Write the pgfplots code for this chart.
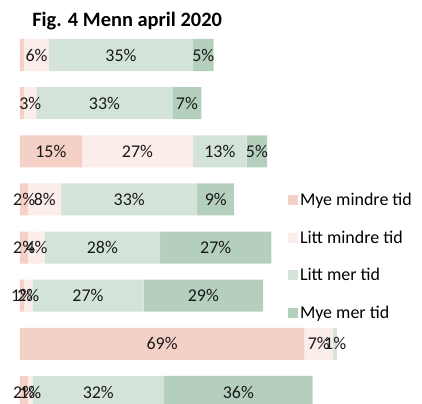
\documentclass[border=0pt]{standalone}
\usepackage{pgfplots}
\pgfplotsset{compat=1.18}
\usepackage{fontspec}
\setmainfont{Carlito}
\definecolor{c1}{HTML}{F4D0C6}
\definecolor{c2}{HTML}{FBEDE9}
\definecolor{c3}{HTML}{D4E3D9}
\definecolor{c4}{HTML}{B5CFBD}
\pgfplotsset{
  common/.style={scale only axis, width=317.24bp, height=369.7bp,
    xmin=0, xmax=77, ymin=0.55, ymax=8.23, y dir=reverse,
    hide axis, clip=false},
}
\begin{document}
\begin{tikzpicture}
\begin{axis}[common,
  xbar stacked, bar width=0.665,
  legend style={at={(axis cs:65.0,3.83)}, anchor=north west, draw=none, fill=none,
    font=\fontsize{18}{22}\selectfont, row sep=19.5bp, inner sep=0pt},
  legend cell align=left,
]
\addplot[fill=c1, draw=none, legend image code/.code={\fill[c1] (0bp,-5bp) rectangle (10bp,5bp);}]
  coordinates {(1,1) (1,2) (15,3) (2,4) (2,5) (1,6) (69,7) (2,8)};
\addplot[fill=c2, draw=none, legend image code/.code={\fill[c2] (0bp,-5bp) rectangle (10bp,5bp);}]
  coordinates {(6,1) (3,2) (27,3) (8,4) (4,5) (2,6) (7,7) (1,8)};
\addplot[fill=c3, draw=none, legend image code/.code={\fill[c3] (0bp,-5bp) rectangle (10bp,5bp);}]
  coordinates {(35,1) (33,2) (13,3) (33,4) (28,5) (27,6) (1,7) (32,8)};
\addplot[fill=c4, draw=none, legend image code/.code={\fill[c4] (0bp,-5bp) rectangle (10bp,5bp);}]
  coordinates {(5,1) (7,2) (5,3) (9,4) (27,5) (29,6) (0,7) (36,8)};
\legend{Mye mindre tid, Litt mindre tid, Litt mer tid, Mye mer tid}
\coordinate (P1) at (axis cs:-4.854,8.23);
\coordinate (P2) at (axis cs:97.57,-0.1425);
\coordinate (T) at (axis cs:26.0,0.398);
\end{axis}
\begin{axis}[common]
\addplot[draw=none, mark=none, nodes near coords, point meta=explicit symbolic,
  every node near coord/.append style={anchor=center, inner sep=0pt, font=\fontsize{18}{22}\selectfont, text=black!90}]
  coordinates {
  (4,1) [6\%] (24.5,1) [35\%] (44.5,1) [5\%]
  (2.5,2) [3\%] (20.5,2) [33\%] (40.5,2) [7\%]
  (7.5,3) [15\%] (28.5,3) [27\%] (48.5,3) [13\%] (57.5,3) [5\%]
  (1,4) [2\%] (6,4) [8\%] (26.5,4) [33\%] (47.5,4) [9\%]
  (1,5) [2\%] (4,5) [4\%] (20,5) [28\%] (47.5,5) [27\%]
  (0.5,6) [1\%] (2,6) [2\%] (16.5,6) [27\%] (44.5,6) [29\%]
  (34.5,7) [69\%] (72.5,7) [7\%] (76.5,7) [1\%]
  (1,8) [2\%] (2.5,8) [1\%] (19,8) [32\%] (53,8) [36\%]
  };
\end{axis}
\node[font=\bfseries\fontsize{20.5}{24}\selectfont, anchor=base, inner sep=0pt] at (T) {Fig. 4 Menn april 2020};
\pgfresetboundingbox
\path (P1) rectangle (P2);
\end{tikzpicture}
\end{document}
